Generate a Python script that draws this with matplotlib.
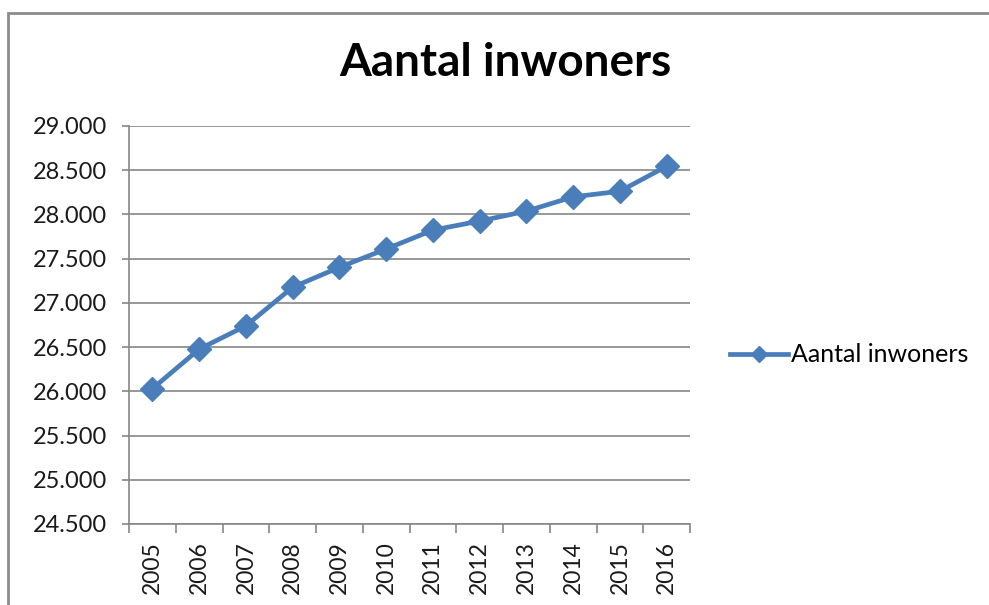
import matplotlib.pyplot as plt
import matplotlib.patches as patches
from matplotlib.ticker import FuncFormatter

# data
years = ['2005', '2006', '2007', '2008', '2009', '2010',
         '2011', '2012', '2013', '2014', '2015', '2016']
inwoners = [26030, 26477, 26740, 27177, 27402, 27609,
            27823, 27925, 28037, 28199, 28262, 28545]

LINE_COLOR = '#4A7EBB'
GRID_COLOR = '#868686'

plt.rcParams['font.family'] = ['Lato', 'DejaVu Sans']

fig = plt.figure(figsize=(9.89, 6.05), dpi=100)

# chart-area frame (runs off right and bottom edges)
fig.add_artist(patches.Rectangle((8 / 989, -0.1), 1.2, 1 - 13 / 605 + 0.1,
                                 transform=fig.transFigure, fill=False,
                                 edgecolor='#8c8c8c', linewidth=2))

ax = fig.add_axes([129 / 989, 1 - 524 / 605, (690 - 129) / 989, (524 - 126) / 605])

x = list(range(len(years)))
ax.plot(x, inwoners, color=LINE_COLOR, linewidth=3.4, marker='D',
        markersize=12, label='Aantal inwoners')

ax.set_xlim(-0.5, len(years) - 0.5)
ax.set_ylim(24500, 29000)
ax.set_yticks(range(24500, 29001, 500))
ax.yaxis.set_major_formatter(FuncFormatter(lambda v, p: f"{int(v):,}".replace(',', '.')))
ax.grid(axis='y', color=GRID_COLOR, linewidth=1.2)
ax.set_axisbelow(True)

# category ticks sit between the years, labels in the middle
ax.set_xticks([i - 0.5 for i in range(len(years) + 1)])
ax.set_xticklabels([])
ax.set_xticks(x, minor=True)
ax.set_xticklabels(years, minor=True, rotation=90, fontsize=16.5, color='#1a1a1a')
ax.tick_params(axis='x', which='minor', length=0, pad=12.5)
ax.tick_params(axis='x', which='major', length=6.5, color=GRID_COLOR, width=1.2)
ax.tick_params(axis='y', length=5, color=GRID_COLOR, width=1.2, labelsize=17,
               pad=11, labelcolor='#1a1a1a')

for side in ['top', 'right']:
    ax.spines[side].set_visible(False)
for side in ['left', 'bottom']:
    ax.spines[side].set_color(GRID_COLOR)
    ax.spines[side].set_linewidth(1.2)

fig.text(505 / 989, 1 - 76 / 605, 'Aantal inwoners', ha='center', va='baseline',
         fontsize=33, fontweight='bold')

fig.legend(loc='center left', bbox_to_anchor=(730 / 989, 1 - 355 / 605),
           frameon=False, fontsize=18, handlelength=2.3, handletextpad=0.15,
           borderaxespad=0, borderpad=0, markerscale=0.7)

plt.savefig('out.png', dpi=100)
